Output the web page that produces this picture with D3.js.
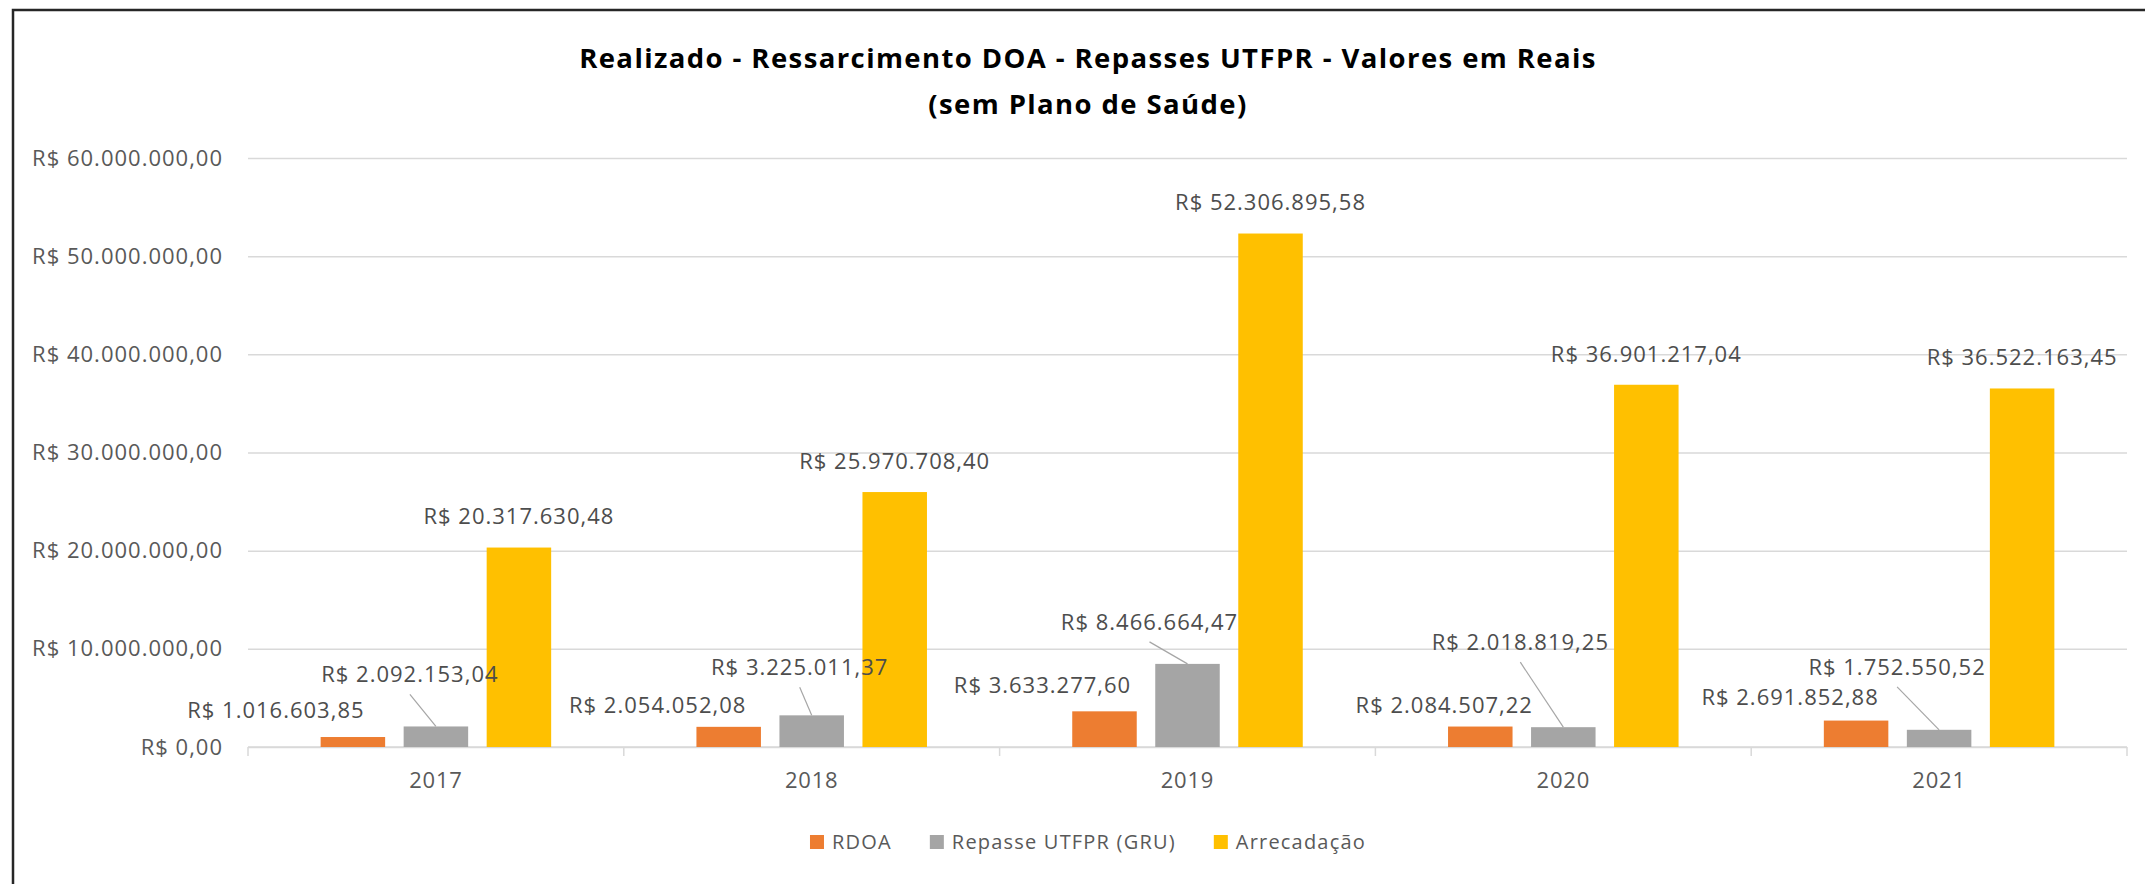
<!DOCTYPE html>
<html>
<head>
<meta charset="utf-8">
<script src="https://cdn.jsdelivr.net/npm/d3@7"></script>
<style>
  body { margin: 0; background: #fff; }
  svg { display: block; font-family: "Open Sans", sans-serif; }
</style>
</head>
<body>
<div id="chart"></div>
<script>
// data
const years = ["2017", "2018", "2019", "2020", "2021"];
const seriesNames = ["RDOA", "Repasse UTFPR (GRU)", "Arrecadação"];
const rdoa = [1016603.85, 2054052.08, 3633277.60, 2084507.22, 2691852.88];
const repasse = [2092153.04, 3225011.37, 8466664.47, 2018819.25, 1752550.52];
const arrecadacao = [20317630.48, 25970708.40, 52306895.58, 36901217.04, 36522163.45];
const yTicks = [0, 10000000, 20000000, 30000000, 40000000, 50000000, 60000000];
const titleLines = [
  "Realizado - Ressarcimento DOA - Repasses UTFPR - Valores em Reais",
  "(sem Plano de Saúde)"
];

const colors = ["#ED7D31", "#A5A5A5", "#FFC000"];
// the labels were dragged by hand in the original, so nudge them (px)
const labelShift = [
  [[-77, 4], [-71, 9], [-62, 5], [-36, 10], [-66, 8]],
  [[-26, -21], [-12, -17], [-38, -11], [-43, -54], [-42, -32]],
  [[0, 0], [0, 0], [0, 0], [0, 0], [0, 0]]
];
const hasLeader = [false, true, false];

const W = 2145, H = 884;
const margin = { top: 158, right: 18, bottom: 137, left: 248 };
const width = W - margin.left - margin.right;
const height = H - margin.top - margin.bottom;

const br = d3.formatLocale({
  decimal: ",",
  thousands: ".",
  grouping: [3],
  currency: ["R$ ", ""]
});
const money = br.format("$,.2f");

const rows = years.map((y, i) => ({
  year: y,
  values: [rdoa[i], repasse[i], arrecadacao[i]]
}));

const svg = d3.select("#chart").append("svg")
  .attr("width", W)
  .attr("height", H);

// outer frame (right and bottom are cut off in the picture)
svg.append("rect")
  .attr("x", 13).attr("y", 10)
  .attr("width", 2149).attr("height", 900)
  .attr("fill", "none")
  .attr("stroke", "#262626")
  .attr("stroke-width", 2.5);

// title
svg.append("g")
  .selectAll("text")
  .data(titleLines)
  .join("text")
  .attr("x", 1088)
  .attr("y", (d, i) => 68 + i * 46)
  .attr("text-anchor", "middle")
  .attr("font-weight", "bold")
  .attr("font-size", 27.5)
  .attr("fill", "#000")
  .attr("letter-spacing", 1.4)
  .text(d => d);

const g = svg.append("g")
  .attr("transform", `translate(${margin.left},${margin.top})`);

const x0 = d3.scaleBand().domain(years).range([0, width]);
const x1 = d3.scaleBand()
  .domain(d3.range(seriesNames.length))
  .range([0, x0.bandwidth()])
  .paddingInner(0.223)
  .paddingOuter(0.875);
const y = d3.scaleLinear().domain([0, 60000000]).range([height, 0]);

// gridlines + y labels
const yAxis = g.append("g")
  .call(d3.axisLeft(y).tickValues(yTicks).tickSize(-width).tickPadding(25).tickFormat(money));
yAxis.select(".domain").remove();
yAxis.selectAll(".tick line").attr("stroke", "#d9d9d9").attr("stroke-width", 1.5);
yAxis.selectAll(".tick text")
  .attr("fill", "#595959")
  .attr("font-size", 22)
  .attr("letter-spacing", 1)
  .attr("font-family", "Open Sans, sans-serif");

// x axis: line, boundary ticks, year labels
const xAxis = g.append("g").attr("transform", `translate(0,${height})`);
xAxis.append("line")
  .attr("x1", 0).attr("x2", width)
  .attr("stroke", "#d9d9d9").attr("stroke-width", 1.5);
xAxis.selectAll(".sep")
  .data(years.concat(["end"]))
  .join("line")
  .attr("class", "sep")
  .attr("x1", (d, i) => i < years.length ? x0(d) : width)
  .attr("x2", (d, i) => i < years.length ? x0(d) : width)
  .attr("y1", 0).attr("y2", 9)
  .attr("stroke", "#d9d9d9").attr("stroke-width", 1.5);
xAxis.selectAll(".year")
  .data(years)
  .join("text")
  .attr("class", "year")
  .attr("x", d => x0(d) + x0.bandwidth() / 2)
  .attr("y", 41)
  .attr("text-anchor", "middle")
  .attr("fill", "#595959")
  .attr("font-size", 22)
  .attr("letter-spacing", 0.8)
  .text(d => d);

// bars
const groups = g.selectAll(".grp")
  .data(rows)
  .join("g")
  .attr("class", "grp")
  .attr("transform", d => `translate(${x0(d.year)},0)`);

groups.selectAll("rect")
  .data(d => d.values.map((v, s) => ({ v, s })))
  .join("rect")
  .attr("x", d => x1(d.s))
  .attr("y", d => y(d.v))
  .attr("width", x1.bandwidth())
  .attr("height", d => height - y(d.v))
  .attr("fill", d => colors[d.s]);

// data labels, with leader lines where Excel drew them
const labels = [];
rows.forEach((r, i) => {
  r.values.forEach((v, s) => {
    const cx = x0(r.year) + x1(s) + x1.bandwidth() / 2;
    const top = y(v);
    const [dx, dy] = labelShift[s][i];
    labels.push({ v, s, cx, top, lx: cx + dx, ly: top - 31 + dy });
  });
});

g.selectAll(".leader")
  .data(labels.filter(d => hasLeader[d.s]))
  .join("line")
  .attr("class", "leader")
  .attr("x1", d => d.lx)
  .attr("y1", d => d.ly + 20)
  .attr("x2", d => d.cx)
  .attr("y2", d => d.top)
  .attr("stroke", "#a6a6a6")
  .attr("stroke-width", 1.2);

g.selectAll(".dlabel")
  .data(labels)
  .join("text")
  .attr("class", "dlabel")
  .attr("x", d => d.lx)
  .attr("y", d => d.ly)
  .attr("dy", "0.36em")
  .attr("text-anchor", "middle")
  .attr("fill", "#4d4d4d")
  .attr("font-size", 22)
  .attr("letter-spacing", 1)
  .text(d => money(d.v));

// legend, centred under the chart
const legend = svg.append("g").attr("transform", "translate(0,842)");
const items = legend.selectAll("g")
  .data(seriesNames)
  .join("g");
items.append("rect")
  .attr("width", 14).attr("height", 14)
  .attr("y", -7)
  .attr("fill", (d, i) => colors[i]);
items.append("text")
  .attr("x", 22)
  .attr("dy", "0.36em")
  .attr("fill", "#595959")
  .attr("font-size", 20)
  .attr("letter-spacing", 1.2)
  .text(d => d);

let pos = 0;
const offsets = [];
items.each(function () {
  offsets.push(pos);
  pos += 22 + this.querySelector("text").getComputedTextLength() + 38;
});
const total = pos - 38;
const startX = 1088 - total / 2;
items.attr("transform", (d, i) => `translate(${startX + offsets[i]},0)`);
</script>
</body>
</html>
